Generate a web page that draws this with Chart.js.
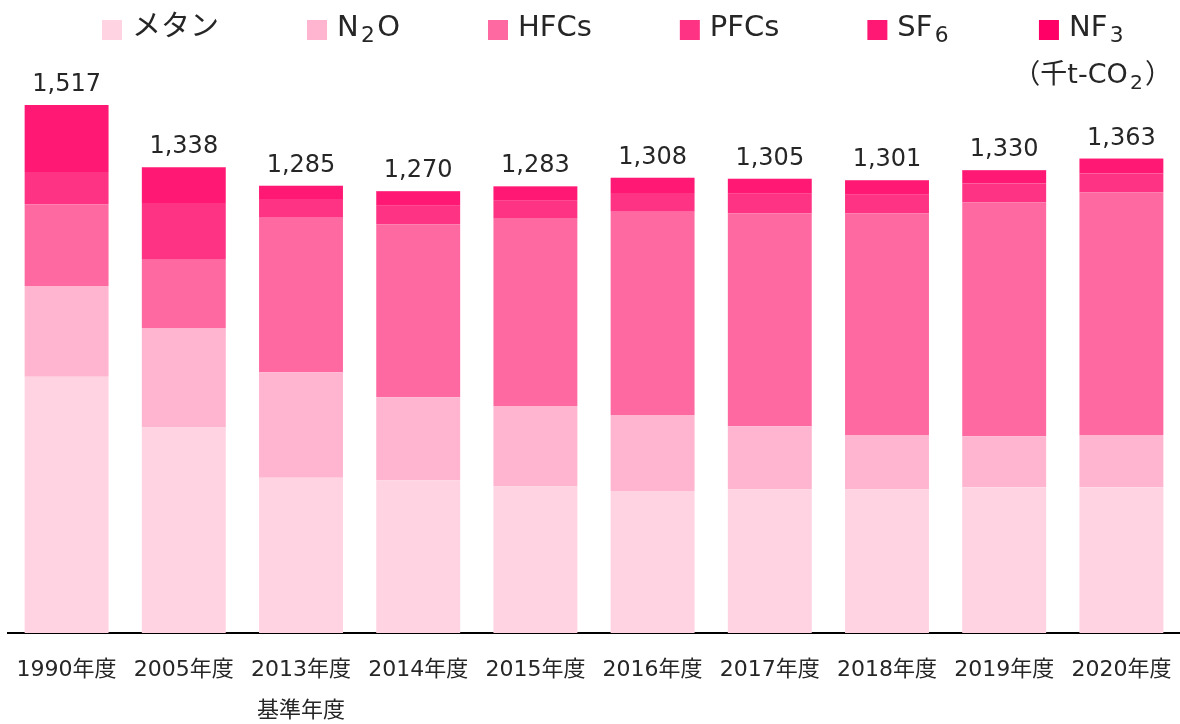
<!DOCTYPE html>
<html lang="ja">
<head>
<meta charset="utf-8">
<title>代替フロン等4ガス・メタン・N2O排出量</title>
<script src="https://cdn.jsdelivr.net/npm/chart.js@4.4.1/dist/chart.umd.min.js"></script>
<style>
  html, body { margin: 0; padding: 0; background: #fff; }
  #chart { display: block; }
</style>
</head>
<body>
<canvas id="chart" width="1180" height="724"></canvas>
<script>
// Categories (2013 is the base year)
const years = ['1990年度', '2005年度', ['2013年度', '基準年度'], '2014年度', '2015年度',
               '2016年度', '2017年度', '2018年度', '2019年度', '2020年度'];

// Emissions by gas (千t-CO2)
const methane = [736, 590, 446, 439, 421, 408, 413, 413, 419, 419];
const n2o     = [261, 285, 303, 238, 231, 218, 181, 156, 146, 150];
const hfcs    = [234, 197, 444, 497, 540, 584, 611, 636, 672, 697];
const pfcs    = [ 93, 163,  54,  53,  50,  54,  57,  54,  54,  54];
const sf6     = [193, 103,  37,  42,  40,  43,  42,  41,  38,  42];
const nf3     = [  0,   0,   1,   1,   1,   1,   1,   1,   1,   1];

// Totals printed above the bars
const totals = [1517, 1338, 1285, 1270, 1283, 1308, 1305, 1301, 1330, 1363];

const seriesNames = ['メタン', 'N₂O', 'HFCs', 'PFCs', 'SF₆', 'NF₃'];
const unitLabel = '（千t-CO₂）';

const COLORS = ['#FFD3E2', '#FFB4D0', '#FF69A1', '#FF3384', '#FF1874', '#FF0066'];
const FONT = '"DejaVu Sans", "Noto Sans CJK JP", sans-serif';
const TEXT = '#262626';

// draws text where ₀-₉ become real lowered subscripts; returns width
const SUBS = '₀₁₂₃₄₅₆₇₈₉';
function drawRich(ctx, text, x, y, size, align) {
    const parts = [];
    for (const ch of text) {
        const k = SUBS.indexOf(ch);
        const sub = k >= 0;
        const c = sub ? String(k) : ch;
        const last = parts[parts.length - 1];
        if (last && last.sub === sub) last.t += c;
        else parts.push({ t: c, sub: sub });
    }
    const pad = size * 0.08; // a little air round subscripts
    let total = 0;
    parts.forEach(p => {
        ctx.font = `${p.sub ? size * 0.75 : size}px ${FONT}`;
        p.w = ctx.measureText(p.t).width + (p.sub ? pad * 2 : 0);
        total += p.w;
    });
    let cx = align === 'right' ? x - total : x;
    ctx.textAlign = 'left';
    ctx.textBaseline = 'alphabetic';
    parts.forEach(p => {
        ctx.font = `${p.sub ? size * 0.75 : size}px ${FONT}`;
        if (p.sub) ctx.fillText(p.t, cx + pad, y + size * 0.22);
        else ctx.fillText(p.t, cx, y);
        cx += p.w;
    });
    return total;
}

// legend row across the top
const topLegend = {
    id: 'topLegend',
    afterDraw(chart) {
        const ctx = chart.ctx;
        ctx.save();
        let x = 102;
        chart.data.datasets.forEach(ds => {
            ctx.fillStyle = ds.backgroundColor;
            ctx.fillRect(x, 20, 20, 20);
            x += 30;
            ctx.fillStyle = TEXT;
            x += drawRich(ctx, ds.label, x, 36, 29, 'left') + 88;
        });
        ctx.restore();
    }
};

// totals above each stack + unit note
const totalLabels = {
    id: 'totalLabels',
    afterDatasetsDraw(chart) {
        const { ctx, scales: { x, y } } = chart;
        ctx.save();
        ctx.fillStyle = TEXT;
        ctx.font = `24px ${FONT}`;
        ctx.textAlign = 'center';
        ctx.textBaseline = 'alphabetic';
        totals.forEach((v, i) => {
            ctx.fillText(v.toLocaleString('en-US'), x.getPixelForValue(i), y.getPixelForValue(v) - 14);
        });
        drawRich(ctx, unitLabel, 1172, 83, 27, 'right');
        ctx.restore();
    }
};

const series = [methane, n2o, hfcs, pfcs, sf6, nf3];

new Chart(document.getElementById('chart'), {
    type: 'bar',
    data: {
        labels: years,
        datasets: series.map((data, i) => ({
            label: seriesNames[i],
            data: data,
            backgroundColor: COLORS[i],
            borderWidth: 0,
            categoryPercentage: 1,
            barPercentage: 0.716
        }))
    },
    options: {
        responsive: false,
        animation: false,
        layout: { padding: { top: 76, left: 8, right: 0, bottom: 0 } },
        scales: {
            x: {
                stacked: true,
                grid: { display: false, drawTicks: false },
                border: { display: true, color: '#000', width: 2 },
                ticks: {
                    color: TEXT,
                    padding: 16,
                    maxRotation: 0,
                    autoSkip: false,
                    font: { family: FONT, size: 22, lineHeight: 1.9 }
                },
                afterFit: (scale) => {
                    scale.height = 91;
                    scale.paddingLeft = 0;
                    scale.paddingRight = 0;
                }
            },
            y: {
                stacked: true,
                display: false,
                min: 0,
                max: 1600
            }
        },
        plugins: {
            legend: { display: false },
            tooltip: { enabled: false }
        }
    },
    plugins: [topLegend, totalLabels]
});
</script>
</body>
</html>
